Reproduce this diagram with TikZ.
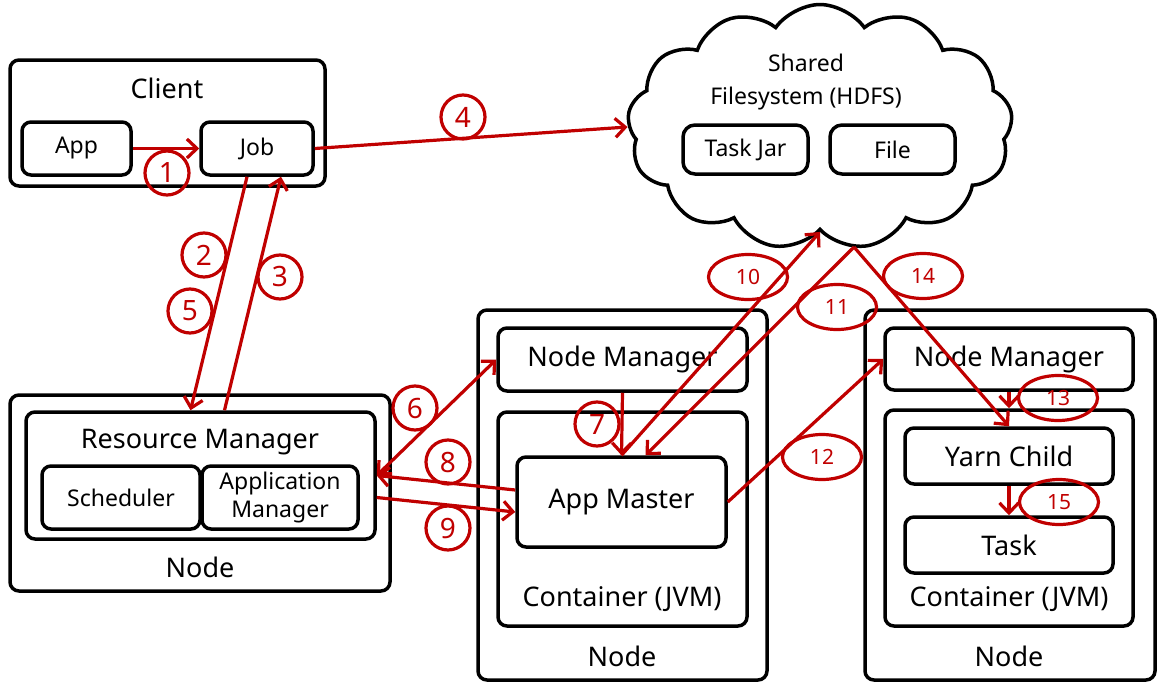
\documentclass[tikz,border=0pt]{standalone}
\usepackage{fontspec}
\setmainfont{Noto Sans}
\usetikzlibrary{shapes.symbols,shapes.geometric,arrows.meta}
\definecolor{flowred}{RGB}{192,0,0}

\begin{document}
\begin{tikzpicture}[x=1pt, y=-1pt,
    >={Straight Barb[length=10pt,width=19pt]},
    box/.style={draw, line width=3.5pt, rounded corners=9pt, inner sep=0pt},
    big/.style={font=\fontsize{27}{30}\selectfont},
    small/.style={font=\fontsize{23}{28}\selectfont},
    flow/.style={draw=flowred, line width=3.2pt, ->},
    numc/.style={circle, draw=flowred, line width=3.2pt, text=flowred, minimum size=44pt, inner sep=0pt, font=\fontsize{28}{30}\selectfont},
    nume/.style={ellipse, draw=flowred, line width=3.2pt, text=flowred, minimum width=79pt, minimum height=45pt, inner sep=0pt, font=\fontsize{21}{22}\selectfont}]
    \useasboundingbox (0,0) rectangle (1164,688);

    % client side
    \node[box, minimum width=315pt, minimum height=126pt] (client) at (167.5,123) {};
    \node[big] (clientlbl) at (167,88) {Client};
    \node[box, small, minimum width=109pt, minimum height=53pt] (app) at (76.5,148.5) {App};
    \node[box, small, minimum width=112pt, minimum height=53pt] (job) at (257,148.5) {Job};

    % shared filesystem
    \node[cloud, draw, line width=3.5pt, cloud puffs=13, cloud puff arc=110, aspect=1.55,
          minimum width=385pt, minimum height=245pt] (hdfs) at (820,127) {};
    \node[small, align=center, font=\fontsize{23}{33}\selectfont] (hdfslbl) at (806,82) {Shared\\Filesystem (HDFS)};
    \node[box, small, rounded corners=12pt, minimum width=125pt, minimum height=49pt] (jar) at (745.5,149.5) {Task Jar};
    \node[box, small, rounded corners=12pt, minimum width=125pt, minimum height=49pt] (file) at (892.5,149.5) {File};
    \coordinate (apex) at (854,247);

    % resource manager node
    \node[box, minimum width=380pt, minimum height=196pt] (rmnode) at (200,493) {};
    \node[box, minimum width=349pt, minimum height=127pt] (rm) at (200.5,475.5) {};
    \node[big] (rmlbl) at (200,442) {Resource Manager};
    \node[box, small, minimum width=158pt, minimum height=63pt] (sched) at (121,497.5) {Scheduler};
    \node[box, small, align=center, minimum width=156pt, minimum height=63pt] (appmgr) at (280,497.5) {Application\\Manager};
    \node[big] (rmnodelbl) at (200,567) {Node};

    % node with app master
    \node[box, minimum width=289pt, minimum height=370pt] (node1) at (622.5,495) {};
    \node[box, big, minimum width=249pt, minimum height=63pt] (nm1) at (622.5,359.5) {Node Manager};
    \node[box, minimum width=249pt, minimum height=214pt] (cont1) at (622.5,519) {};
    \node[box, big, minimum width=209pt, minimum height=90pt] (am) at (621.5,502) {App Master};
    \node[big] (cont1lbl) at (622,599) {Container (JVM)};
    \node[big] (node1lbl) at (622,656) {Node};

    % node with yarn child
    \node[box, minimum width=290pt, minimum height=370pt] (node2) at (1010,495) {};
    \node[box, big, minimum width=248pt, minimum height=62pt] (nm2) at (1009,359) {Node Manager};
    \node[box, minimum width=248pt, minimum height=216pt] (cont2) at (1009,518) {};
    \node[box, big, minimum width=208pt, minimum height=56pt] (yarn) at (1009,456) {Yarn Child};
    \node[box, big, minimum width=208pt, minimum height=56pt] (task) at (1009,545) {Task};
    \node[big] (cont2lbl) at (1009,599) {Container (JVM)};
    \node[big] (node2lbl) at (1009,656) {Node};

    % steps
    \node[numc] (n1) at (167,173) {1};
    \node[numc] (n2) at (204,255) {2};
    \node[numc] (n3) at (280,277) {3};
    \node[numc] (n4) at (463,117) {4};
    \node[numc] (n5) at (190,311) {5};
    \node[numc] (n6) at (415,408) {6};
    \node[numc] (n7) at (597,424) {7};
    \node[numc] (n8) at (448,462) {8};
    \node[numc] (n9) at (448,528) {9};
    \node[nume] (n10) at (748,277) {10};
    \node[nume] (n11) at (837,307) {11};
    \node[nume] (n12) at (822,457) {12};
    \node[nume] (n13) at (1058,398) {13};
    \node[nume] (n14) at (923,276) {14};
    \node[nume] (n15) at (1059,502) {15};

    \draw[flow] (app.east) -- (job.west);
    \draw[flow] ([xshift=-10pt]job.south) -- ([xshift=-10pt]rm.north);
    \draw[flow] ([xshift=24pt]rm.north) -- ([xshift=24pt]job.south);
    \draw[flow] (job.east) -- (hdfs.west);
    \draw[flow, <->] (rm.east) -- (nm1.west);
    \draw[flow] (nm1.south) -- (am.north);
    \draw[flow] ([yshift=12pt]am.west) -- (rm.east);
    \draw[flow] ([yshift=-22pt]rm.east) -- ([yshift=-10pt]am.west);
    \draw[flow] (am.north) -- (hdfs.south);
    \draw[flow] (apex) -- ([xshift=24pt]am.north);
    \draw[flow] (am.east) -- (nm2.west);
    \draw[flow] (nm2.south) -- (cont2.north);
    \draw[flow] (apex) -- (yarn.north);
    \draw[flow] (yarn.south) -- (task.north);
\end{tikzpicture}
\end{document}
